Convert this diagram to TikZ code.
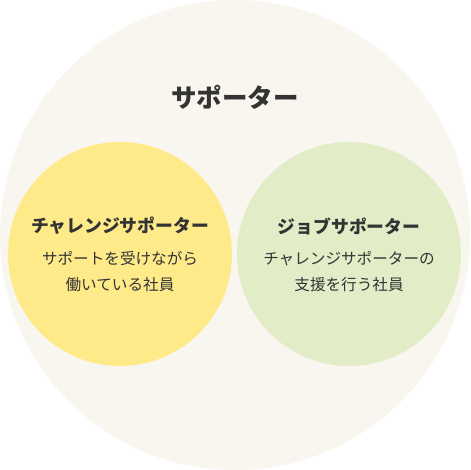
\documentclass[tikz,border=0pt]{standalone}
\usepackage{fontspec}
\setmainfont{Noto Sans CJK JP}
\definecolor{bgc}{RGB}{248,246,238}
\definecolor{yel}{RGB}{255,234,138}
\definecolor{grn}{RGB}{226,237,200}
\definecolor{txt}{RGB}{51,51,51}
\tikzset{
  circ/.style={circle,draw=none,inner sep=0pt},
  ttl/.style={text=txt,font=\fontsize{25.5}{28}\selectfont\bfseries,inner sep=0pt},
  sub/.style={text=txt,font=\fontsize{17.8}{21}\selectfont\bfseries,inner sep=0pt},
  desc/.style={text=txt,font=\fontsize{15.6}{26}\selectfont,align=center,inner sep=0pt},
}
\begin{document}
\begin{tikzpicture}[x=1pt,y=1pt]
\useasboundingbox (0,0) rectangle (470,470);
\fill[white] (0,0) rectangle (470,470);
\node[circ,fill=bgc,minimum size=470pt] (big) at (235,235) {};
\node[circ,fill=yel,minimum size=224pt] (yc) at (120,216) {};
\node[circ,fill=grn,minimum size=224pt] (gc) at (349,216) {};
\node[ttl] (t) at (235,373) {サポーター};
\node[sub] (ys) at (120,244) {チャレンジサポーター};
\node[desc] (yd) at (120,198) {サポートを受けながら\\働いている社員};
\node[sub] (gs) at (349,244) {ジョブサポーター};
\node[desc] (gd) at (349,198) {チャレンジサポーターの\\支援を行う社員};
\end{tikzpicture}
\end{document}
